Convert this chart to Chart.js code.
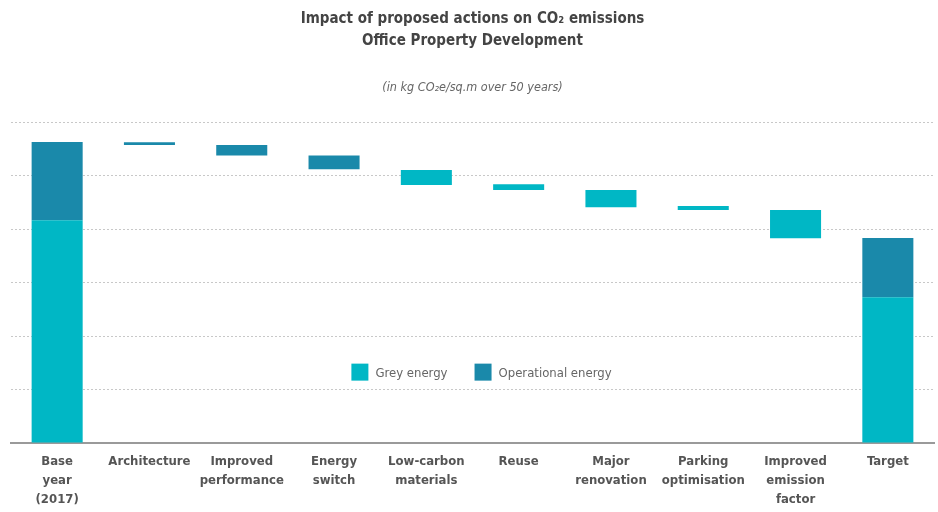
<!DOCTYPE html>
<html lang="en">
<head>
    <meta charset="UTF-8">
    <title>Impact of proposed actions on CO2 emissions</title>
    <script src="https://cdn.jsdelivr.net/npm/chart.js"></script>
    <style>
        html, body { margin: 0; padding: 0; background: #fff; }
        #wrap { position: relative; width: 938px; height: 512px; }
    </style>
</head>
<body>
    <div id="wrap"><canvas id="co2Chart"></canvas></div>

    <script>
        // categories along the x axis (multi-line labels)
        const categories = [
            ['Base', 'year', '(2017)'],
            'Architecture',
            ['Improved', 'performance'],
            ['Energy', 'switch'],
            ['Low-carbon', 'materials'],
            'Reuse',
            ['Major', 'renovation'],
            ['Parking', 'optimisation'],
            ['Improved', 'emission', 'factor'],
            'Target'
        ];

        // floating bars [from, to], in kg CO2e/sq.m (estimated, no axis labels in source)
        const greyEnergy = [
            [0, 833], null, null, null,
            [965, 1021], [946, 968], [882, 946], [871, 886], [766, 871],
            [0, 545]
        ];
        const operationalEnergy = [
            [833, 1126], [1114, 1125], [1075, 1114], [1024, 1075],
            null, null, null, null, null,
            [545, 767]
        ];

        const gridStep = 200;
        const yMax = 1200;

        const FONT = '"DejaVu Sans Condensed", "Liberation Sans Narrow", sans-serif';

        // legend drawn inside the plot area, centred
        const innerLegend = {
            id: 'innerLegend',
            afterDraw(chart) {
                const ctx = chart.ctx;
                const area = chart.chartArea;
                const box = 17, gapText = 7, gapItem = 27;
                ctx.save();
                ctx.font = '13px ' + FONT;
                ctx.textBaseline = 'middle';
                const items = chart.data.datasets.map(ds => ({
                    text: ds.label, color: ds.backgroundColor,
                    w: box + gapText + ctx.measureText(ds.label).width
                }));
                const total = items.reduce((s, it) => s + it.w, 0) + gapItem * (items.length - 1);
                let x = (area.left + area.right) / 2 + 9 - total / 2;
                const y = area.top + (area.bottom - area.top) * 0.779;
                items.forEach(it => {
                    ctx.fillStyle = it.color;
                    ctx.fillRect(x, y - box / 2, box, box);
                    ctx.fillStyle = '#666';
                    ctx.fillText(it.text, x + box + gapText, y + 1);
                    x += it.w + gapItem;
                });
                ctx.restore();
            }
        };

        const ctx = document.getElementById('co2Chart').getContext('2d');
        new Chart(ctx, {
            type: 'bar',
            data: {
                labels: categories,
                datasets: [{
                    label: 'Grey energy',
                    data: greyEnergy,
                    backgroundColor: '#00b7c5',
                    grouped: false,
                    categoryPercentage: 0.553,
                    barPercentage: 1
                }, {
                    label: 'Operational energy',
                    data: operationalEnergy,
                    backgroundColor: '#1a89aa',
                    grouped: false,
                    categoryPercentage: 0.553,
                    barPercentage: 1
                }]
            },
            options: {
                responsive: true,
                maintainAspectRatio: false,
                animation: false,
                layout: { padding: { left: 11, right: 4, top: 0, bottom: -6 } },
                plugins: {
                    legend: { display: false },
                    tooltip: { enabled: false },
                    title: {
                        display: true,
                        text: ['Impact of proposed actions on CO\u2082 emissions', 'Office Property Development'],
                        color: '#444',
                        font: { family: FONT, size: 15, weight: 'bold', lineHeight: 1.47 },
                        padding: { top: 8, bottom: 27 }
                    },
                    subtitle: {
                        display: true,
                        text: '(in kg CO\u2082e/sq.m over 50 years)',
                        color: '#666',
                        font: { family: FONT, size: 12.5, style: 'italic', lineHeight: 1.44 },
                        padding: { top: 0, bottom: 25 }
                    }
                },
                scales: {
                    x: {
                        grid: { display: false, drawTicks: false },
                        border: { display: true, color: '#9a9a9a', width: 2 },
                        ticks: {
                            color: '#555',
                            padding: 9,
                            maxRotation: 0,
                            autoSkip: false,
                            font: { family: FONT, size: 13, weight: 'bold', lineHeight: 1.46 }
                        }
                    },
                    y: {
                        min: 0,
                        max: yMax,
                        ticks: { display: false, stepSize: gridStep },
                        border: { display: false, dash: [2, 2] },
                        grid: { color: '#c8c8c8', lineWidth: 1, drawTicks: false }
                    }
                }
            },
            plugins: [innerLegend]
        });
    </script>
</body>
</html>
